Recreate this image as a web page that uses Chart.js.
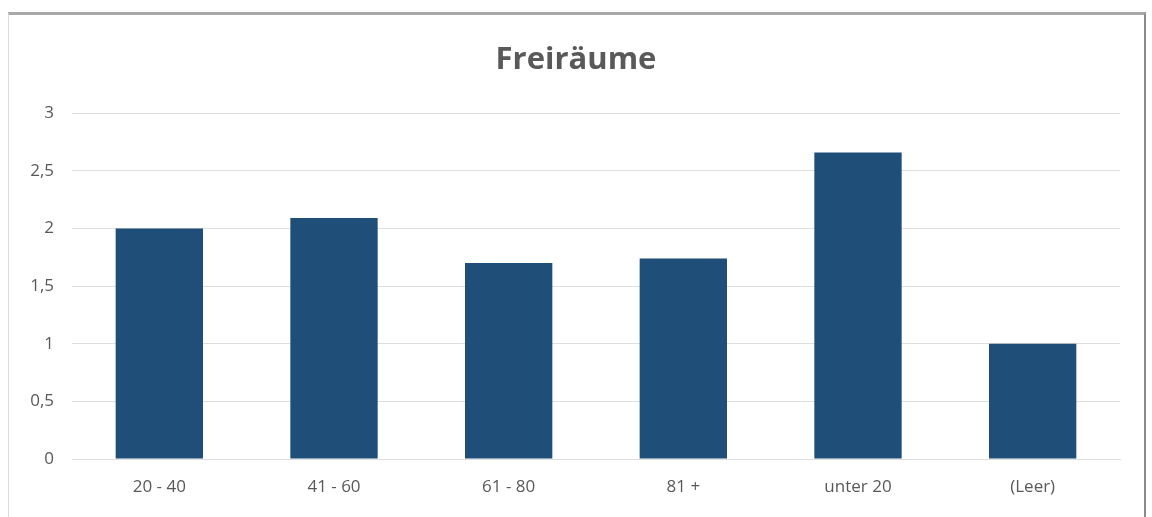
<!DOCTYPE html>
<html>
<head>
<meta charset="utf-8">
<script src="https://cdn.jsdelivr.net/npm/chart.js@4"></script>
<style>
  html, body { margin: 0; padding: 0; background: #ffffff; }
  body { width: 1152px; height: 517px; position: relative; overflow: hidden; }
  #frame {
    position: absolute; left: 8px; top: 12px; width: 1138px; height: 510px;
    border-top: 3px solid #a9a9a9; border-left: 1px solid #dcdcdc; border-right: 2px solid #8a8a8a;
    box-sizing: border-box;
  }
  #wrap { position: absolute; left: 0; top: 0; width: 1152px; height: 517px; }
</style>
</head>
<body>
<div id="frame"></div>
<div id="wrap"><canvas id="c" width="1152" height="517"></canvas></div>
<script>
const chartTitle = 'Freiräume';
const categories = ['20 - 40', '41 - 60', '61 - 80', '81 +', 'unter 20', '(Leer)'];
const values = [2.0, 2.09, 1.70, 1.74, 2.66, 1.0];
const yTicks = [0, 0.5, 1, 1.5, 2, 2.5, 3];

const textColor = '#595959';
const gridColor = '#dedede';
const barColor = '#1f4e79';

// Center the title on the whole canvas rather than on the padded layout box
const fullWidthTitle = {
  id: 'fullWidthTitle',
  afterLayout(chart) {
    const t = chart.titleBlock;
    if (t) { t.left = 0; t.right = chart.width; t.width = chart.width; }
  }
};

new Chart(document.getElementById('c'), {
  type: 'bar',
  data: {
    labels: categories,
    datasets: [{
      label: chartTitle,
      data: values,
      backgroundColor: barColor,
      borderWidth: 0,
      categoryPercentage: 1.0,
      barPercentage: 0.5
    }]
  },
  plugins: [fullWidthTitle],
  options: {
    responsive: false,
    animation: false,
    events: [],
    layout: { padding: { left: 0, right: 32, top: 0, bottom: 0 } },
    plugins: {
      legend: { display: false },
      tooltip: { enabled: false },
      title: {
        display: true,
        text: chartTitle,
        color: textColor,
        font: { family: '"Open Sans", sans-serif', size: 31, weight: 'bold', lineHeight: 1.2 },
        padding: { top: 42, bottom: 34 }
      }
    },
    scales: {
      x: {
        grid: { display: false, drawTicks: false },
        border: { display: true, color: gridColor, width: 1 },
        ticks: {
          color: textColor,
          font: { family: '"Open Sans", sans-serif', size: 17 },
          padding: 18,
          maxRotation: 0
        },
        afterFit(scale) { scale.height = 58; }
      },
      y: {
        min: 0,
        max: 3,
        afterBuildTicks(scale) { scale.ticks = yTicks.map(v => ({ value: v })); },
        grid: { color: gridColor, lineWidth: 1, drawTicks: false },
        border: { display: false },
        ticks: {
          color: textColor,
          font: { family: '"Open Sans", sans-serif', size: 17 },
          padding: 18,
          callback: v => String(v).replace('.', ',')
        },
        afterFit(scale) { scale.width = 72; }
      }
    }
  }
});
</script>
</body>
</html>
